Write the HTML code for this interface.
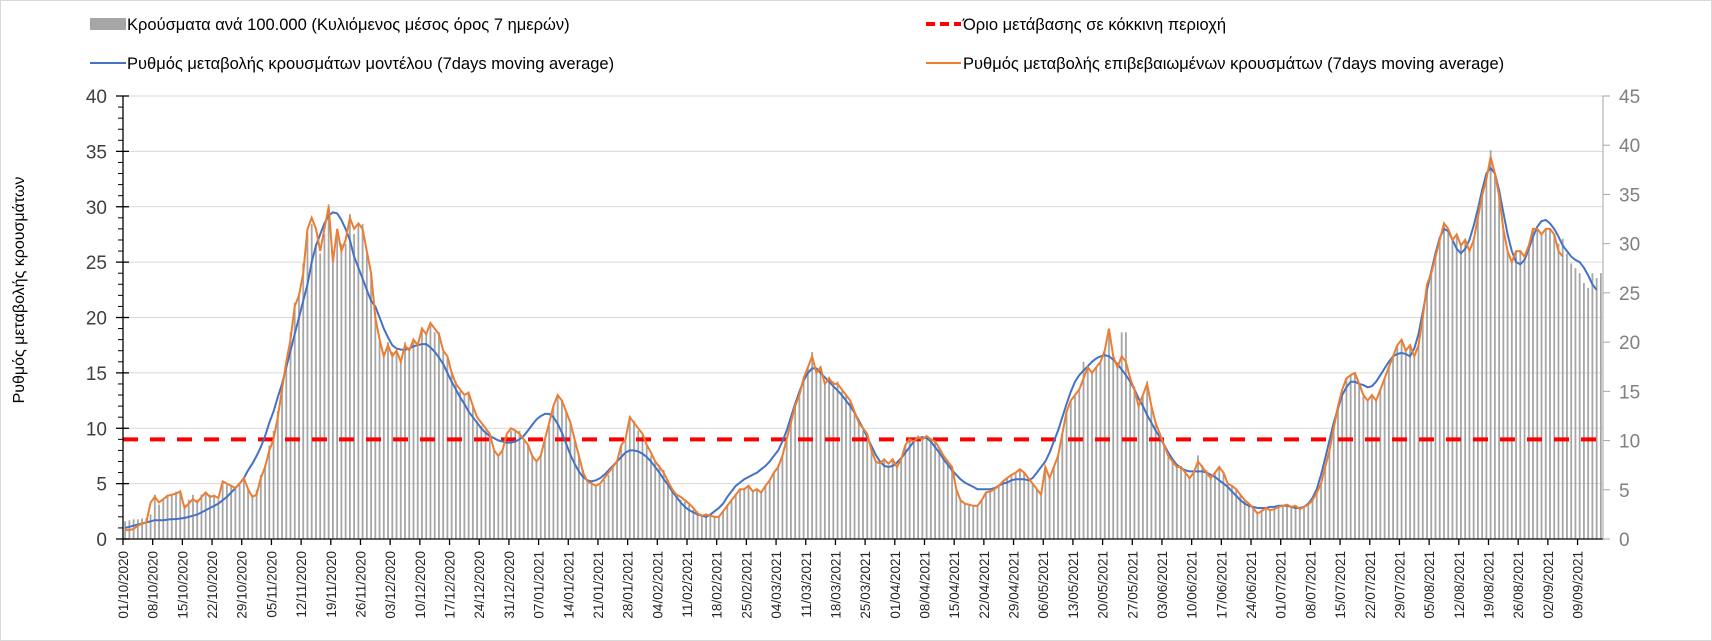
<!DOCTYPE html>
<html><head><meta charset="utf-8">
<style>
html,body{margin:0;padding:0;background:#fff;}
#wrap{position:relative;width:1712px;height:641px;box-sizing:border-box;border:1px solid #d9d9d9;overflow:hidden;}
svg text{font-family:"Liberation Sans","DejaVu Sans",sans-serif;}
</style></head>
<body>
<div id="wrap">
<svg id="chart" width="1712" height="641" xmlns="http://www.w3.org/2000/svg">
  <g id="grid"></g>
  <g id="bars"></g>
  <line id="thresh" stroke="#ff0000" stroke-width="4" stroke-dasharray="15 12"/>
  <path id="blue" fill="none" stroke="#4472c4" stroke-width="2"/>
  <path id="orange" fill="none" stroke="#ed7d31" stroke-width="2"/>
  <g id="axes"></g>
  <text transform="translate(23,289) rotate(-90)" text-anchor="middle" font-size="16" fill="#000">Ρυθμός μεταβολής κρουσμάτων</text>
  <g>
    <g>
      <rect x="89" y="17" width="36" height="12" fill="#a6a6a6"/>
      <text x="126" y="29" font-size="16.5" fill="#000">Κρούσματα ανά 100.000 (Κυλιόμενος μέσος όρος 7 ημερών)</text>
    </g>
    <g>
      <line x1="925" y1="23" x2="960" y2="23" stroke="#ff0000" stroke-width="4" stroke-dasharray="9 5"/>
      <text x="962" y="29" font-size="16.5" fill="#000">Όριο μετάβασης σε κόκκινη περιοχή</text>
    </g>
    <g>
      <line x1="89" y1="62" x2="125" y2="62" stroke="#4472c4" stroke-width="2"/>
      <text x="126" y="68" font-size="16.5" fill="#000">Ρυθμός μεταβολής κρουσμάτων μοντέλου (7days moving average)</text>
    </g>
    <g>
      <line x1="925" y1="62" x2="960" y2="62" stroke="#ed7d31" stroke-width="2"/>
      <text x="962" y="68" font-size="16.5" fill="#000">Ρυθμός μεταβολής επιβεβαιωμένων κρουσμάτων (7days moving average)</text>
    </g>
  </g>
</svg>
</div>
<script>
const startDate = [2020, 10, 1];
const threshold = 9;
const leftTicks = [0,5,10,15,20,25,30,35,40];
const rightTicks = [0,5,10,15,20,25,30,35,40,45];
const bars = [
1.8,1.9,2,2,2.1,2.1,2.5, 4.5,3.5,4,4.5,4.5,4.8,4.8, 3.5,4,4.5,4,4.5,4.8,4.5, 4.5,4,5.8,5.5,5.4,5.2,5.5,
6,5,4.5,5,6.5,7.5,9.5, 11,13,15.5,18,21,24,25, 28,31,32,30,29,31,34, 29,31,30,30,33,31,32,
32,29,27,23,20,19,20, 19,19,18,20,19,20,20, 21.5,21,22,21,21,19,18.5, 17,16,15,14.5,15,13.5,12,
11.5,11,10.5,9,8.5,9,10.5, 11,11,11,10,9.5,8.5,8, 8.5,10,11.5,13.5,14.5,14,13, 12,10,8.5,7,6,5.8,5.5,
5.5,6,6.5,7.5,8,9.5,10, 12.5,12,11,10.5,9.5,8.5,8, 7.5,7,6,5,4.5,4,3.8, 3.5,3,2.8,2.5,2.6,2.4,2.3,
2.3,2.8,3.5,4,4.5,5,5, 5.5,5,5,4.8,5.5,6,6.8, 7.5,8.5,10,12,13.5,15,16.5, 17.5,19,17,17.5,16,16.5,16,
16,15,14.5,14,13,12,11, 10.5,9,8,7.5,8,7.5,8, 7.5,8,9.5,10,10,10.5,10.2, 10.5,10.2,10,9.3,8.5,8,7.3,
5,4,3.6,3.5,3.4,3.4,4, 4.8,4.8,5,5.4,5.8,6.2,6.5, 6.8,7,6.8,6.2,5.6,5,4.5, 7.3,6.2,7.3,8.5,10.8,13,14,
14.5,15.2,18,17.5,17,17.5,18, 19,21,18.5,17.5,21,21,16.5, 15.5,13.5,14.5,16,13.5,12,10.8, 9.5,8.5,8,7.3,7.3,6.8,6.2,
6.8,8.5,7.5,7,6.3,6.8,7.3, 6.8,5.6,5.4,5,4.5,4,3.6, 3.2,2.8,3,3.2,3,3.1,3.3, 3.4,3.5,3.3,3.4,3.1,3.3,3.5,
4,4.8,5.6,7.3,9,11.3,13.5, 15,16.3,16.7,16.9,15.8,14.6,14, 14.6,14,15.2,16.3,17.5,18.6,19.7, 20.2,19.1,19.7,18.6,19.7,22.5,25.9,
27,28.7,30.4,32,31.5,30.4,31, 30,30.5,29.3,30.4,32.6,34.9,36.6, 39.5,37.2,34.9,31.5,29.3,28.1,29.3, 29.3,28.7,29.8,31.5,31.5,31,31.5,
31.5,31,30,30.5,29,28,27.5, 27,26,25.5,27,26.5,27];
const modelRate = [
1.0,1.1,1.2,1.3,1.4,1.5,1.6, 1.7,1.7,1.7,1.75,1.8,1.8,1.85, 1.9,2.0,2.1,2.2,2.4,2.6,2.8, 3.0,3.2,3.5,3.8,4.2,4.6,5.0,
5.5,6.2,6.8,7.5,8.3,9.3,10.5, 11.5,12.8,14,15.5,17,18.5,20, 21.5,23,25,26.5,27.5,28.5,29.2, 29.5,29.4,28.8,28,27,25.5,24.5,
23.5,22.5,21.5,21,20,19,18.2, 17.5,17.2,17.1,17.1,17.2,17.4,17.5, 17.6,17.6,17.3,16.9,16.4,15.8,15, 14.2,13.5,12.8,12.2,11.5,11,10.5,
10,9.6,9.3,9.1,8.9,8.8,8.7, 8.7,8.8,9.0,9.3,9.8,10.3,10.8, 11.1,11.3,11.3,11.0,10.4,9.6,8.6, 7.6,6.8,6.1,5.6,5.3,5.2,5.3,
5.5,5.8,6.2,6.6,7.0,7.4,7.8, 8,8,7.9,7.7,7.4,7.0,6.5, 6.0,5.4,4.9,4.3,3.8,3.3,2.9, 2.6,2.4,2.2,2.1,2.0,2.2,2.5,
2.8,3.2,3.8,4.3,4.8,5.1,5.4, 5.6,5.8,6.0,6.3,6.6,7.0,7.5, 8,8.8,9.8,11,12.2,13.3,14.3, 15,15.4,15.4,15.0,14.6,14.2,13.8,
13.4,13,12.5,12,11.4,10.7,10, 9.2,8.4,7.6,7,6.6,6.5,6.6, 6.9,7.3,7.8,8.3,8.8,9.1,9.2, 9.1,8.8,8.3,7.8,7.2,6.7,6.2,
5.8,5.4,5.1,4.9,4.7,4.5,4.5, 4.5,4.5,4.6,4.8,5.0,5.1,5.3, 5.4,5.4,5.4,5.3,5.5,6.0,6.5, 7,7.8,8.8,9.8,11,12.2,13.3,
14.2,14.8,15.2,15.6,16,16.3,16.5, 16.6,16.5,16.2,15.8,15.3,14.8,14.2, 13.5,12.7,12,11.2,10.5,9.8,9.2, 8.5,7.8,7.2,6.7,6.4,6.2,6.1,
6.1,6.1,6.1,6,5.8,5.6,5.3, 5,4.7,4.3,3.9,3.5,3.2,3.0, 2.9,2.8,2.8,2.8,2.9,2.9,3.0, 3.0,3.0,2.9,2.8,2.8,2.9,3.2,
3.7,4.5,5.8,7.3,8.9,10.5,11.8, 13,13.7,14.2,14.2,14,13.9,13.7, 13.8,14.2,14.8,15.4,16,16.5,16.7, 16.8,16.7,16.5,17.2,18.5,20.5,22.5,
24.2,25.8,27.2,28,27.8,27,26.2, 25.8,26.2,27,28.3,29.8,31.5,33, 33.5,33,31.5,29.5,27.5,26,25, 24.8,25.2,26.2,27.3,28.2,28.7,28.8,
28.5,28,27.3,26.5,26,25.5,25.2, 25,24.5,23.8,23,22.5];
const confirmedRate = [
0.8,0.8,0.9,1.2,1.4,1.5,3.3, 3.8,3.3,3.6,3.9,4.0,4.1,4.3, 2.8,3.2,3.6,3.3,3.8,4.2,3.8, 3.9,3.7,5.2,5.0,4.8,4.6,5.0,
5.5,4.5,3.8,4.0,5.5,6.5,8.0, 9.0,11,13.5,16,18,21,22, 24,28,29,28,26,28,30, 25,28,26,27,29,28,28.5,
28,26,24,20,18,16.5,17.5, 16.5,17,16,17.5,17,18,17.5, 19,18.5,19.5,19,18.5,17,16.5, 15,14,13.5,13,13.2,12,11,
10.5,10,9.5,8,7.5,8,9.5, 10,9.8,9.5,9,8.5,7.5,7, 7.5,9,10.5,12,13,12.5,11.5, 10.5,9,7.5,6,5.2,5,4.8,
5,5.5,6,6.5,7,8.5,9, 11,10.5,10,9.5,8.5,7.8,7, 6.5,6,5.2,4.5,4,3.8,3.5, 3.2,2.8,2.3,2.1,2.2,2.1,2.0,
2.0,2.5,3.0,3.5,4.0,4.5,4.5, 4.8,4.3,4.5,4.2,4.8,5.3,6.0, 6.5,7.5,9,10.5,12,13,14.5, 15.5,16.5,15,15.5,14,14.5,14,
14,13.5,13,12.5,11.5,10.5,10, 9.5,8,7,6.8,7.2,6.8,7.2, 6.5,7.2,8.5,9,8.8,9.2,9.0, 9.3,9.0,8.8,8.2,7.5,7,6.5,
4.5,3.5,3.2,3.1,3.0,3.0,3.5, 4.2,4.3,4.5,4.8,5.2,5.5,5.8, 6.0,6.3,6.0,5.5,5.0,4.5,4.0, 6.5,5.5,6.5,7.5,9.5,11.5,12.5,
13,13.5,14.5,15.5,15,15.5,16, 17,19,16.5,15.5,16.5,16,14.5, 13.5,12,13,14,12,10.5,9.5, 8.5,7.5,7,6.5,6.5,6,5.5,
6,7,6.5,6,5.5,6,6.5, 6,5,4.8,4.5,4,3.5,3.2, 2.8,2.3,2.5,2.8,2.6,2.7,2.9, 3.0,3.1,2.9,3.0,2.7,2.9,3.1,
3.5,4.2,5,6.5,8,10,12, 13.5,14.5,14.8,15,14,13,12.5, 13,12.5,13.5,14.5,15.5,16.5,17.5, 18,17,17.5,16.5,17.5,20,23,
24,25.5,27,28.5,28,27,27.5, 26.5,27,26,27,29,31,32.5, 34.5,33,31,28,26,25,26, 26,25.5,26.5,28,28,27.5,28,
28,27.5,26,25.5];

const SVGNS = "http://www.w3.org/2000/svg";
const X0 = 122, X1 = 1602, Y0 = 538, YT = 95;
const nDays = bars.length;
const dw = (X1 - X0) / nDays;
function xDay(d){ return X0 + (d + 0.5) * dw; }
function yL(v){ return Y0 - v * (Y0 - YT) / 40; }
function yR(v){ return Y0 - v * (Y0 - YT) / 45; }
function mk(tag, attrs, parent){
  const el = document.createElementNS(SVGNS, tag);
  for (const k in attrs) el.setAttribute(k, attrs[k]);
  parent.appendChild(el);
  return el;
}
const grid = document.getElementById('grid');
leftTicks.forEach(v => {
  if (v === 0) return;
  const g = mk('line', {x1:X0, x2:X1, y1:yL(v), y2:yL(v), stroke:'#d9d9d9', 'stroke-width':1}, grid);
  
  
});
const barG = document.getElementById('bars');
bars.forEach((v, i) => {
  const r = mk('rect', {x: xDay(i) - 0.9, y: yR(v), width: 1.8, height: Y0 - yR(v), fill: '#a6a6a6'}, barG);
  
  
});
const th = document.getElementById('thresh');
th.setAttribute('x1', X0); th.setAttribute('x2', X1 - 2);
th.setAttribute('y1', yL(threshold)); th.setAttribute('y2', yL(threshold));
function pathFrom(arr){ return arr.map((v,i)=>(i?'L':'M')+xDay(i).toFixed(1)+' '+yL(v).toFixed(1)).join(' '); }
document.getElementById('blue').setAttribute('d', pathFrom(modelRate));
document.getElementById('orange').setAttribute('d', pathFrom(confirmedRate));

const ax = document.getElementById('axes');
mk('line', {x1:X0, x2:X0, y1:YT, y2:Y0, stroke:'#000', 'stroke-width':1.3}, ax);
mk('line', {x1:X0, x2:X1, y1:Y0, y2:Y0, stroke:'#000', 'stroke-width':1.3}, ax);
mk('line', {x1:X1, x2:X1, y1:YT, y2:Y0, stroke:'#a6a6a6', 'stroke-width':1}, ax);
for (let v = 0; v <= 40; v++) {
  const y = yL(v);
  if (v % 5 === 0) mk('line', {x1:X0-7, x2:X0+6, y1:y, y2:y, stroke:'#000', 'stroke-width':1.3}, ax);
  else mk('line', {x1:X0-5, x2:X0, y1:y, y2:y, stroke:'#000', 'stroke-width':1}, ax);
}
leftTicks.forEach(v => {
  const t = mk('text', {x: X0 - 16, y: yL(v) + 7, 'text-anchor':'end', 'font-size':19, fill:'#404040'}, ax);
  t.textContent = v;
  
  
});
rightTicks.forEach(v => {
  mk('line', {x1:X1, x2:X1+7, y1:yR(v), y2:yR(v), stroke:'#a6a6a6', 'stroke-width':1}, ax);
  const t = mk('text', {x: X1 + 16, y: yR(v) + 7, 'text-anchor':'start', 'font-size':19, fill:'#808080'}, ax);
  t.textContent = v;
  
  
});
const d0 = new Date(startDate[0], startDate[1] - 1, startDate[2]);
function pad(n){ return (n < 10 ? '0' : '') + n; }
for (let d = 0; d < nDays; d += 7) {
  const x = X0 + d * dw;
  mk('line', {x1:x, x2:x, y1:Y0, y2:Y0+6, stroke:'#000', 'stroke-width':1.3}, ax);
  const dt = new Date(d0.getTime()); dt.setDate(dt.getDate() + d);
  const lbl = pad(dt.getDate()) + '/' + pad(dt.getMonth()+1) + '/' + dt.getFullYear();
  const t = mk('text', {transform:'translate(' + (x + 5) + ',' + (Y0 + 12) + ') rotate(-90)', 'text-anchor':'end', 'font-size':13.5, fill:'#262626'}, ax);
  t.textContent = lbl;
  
  
}
</script>
</body></html>
